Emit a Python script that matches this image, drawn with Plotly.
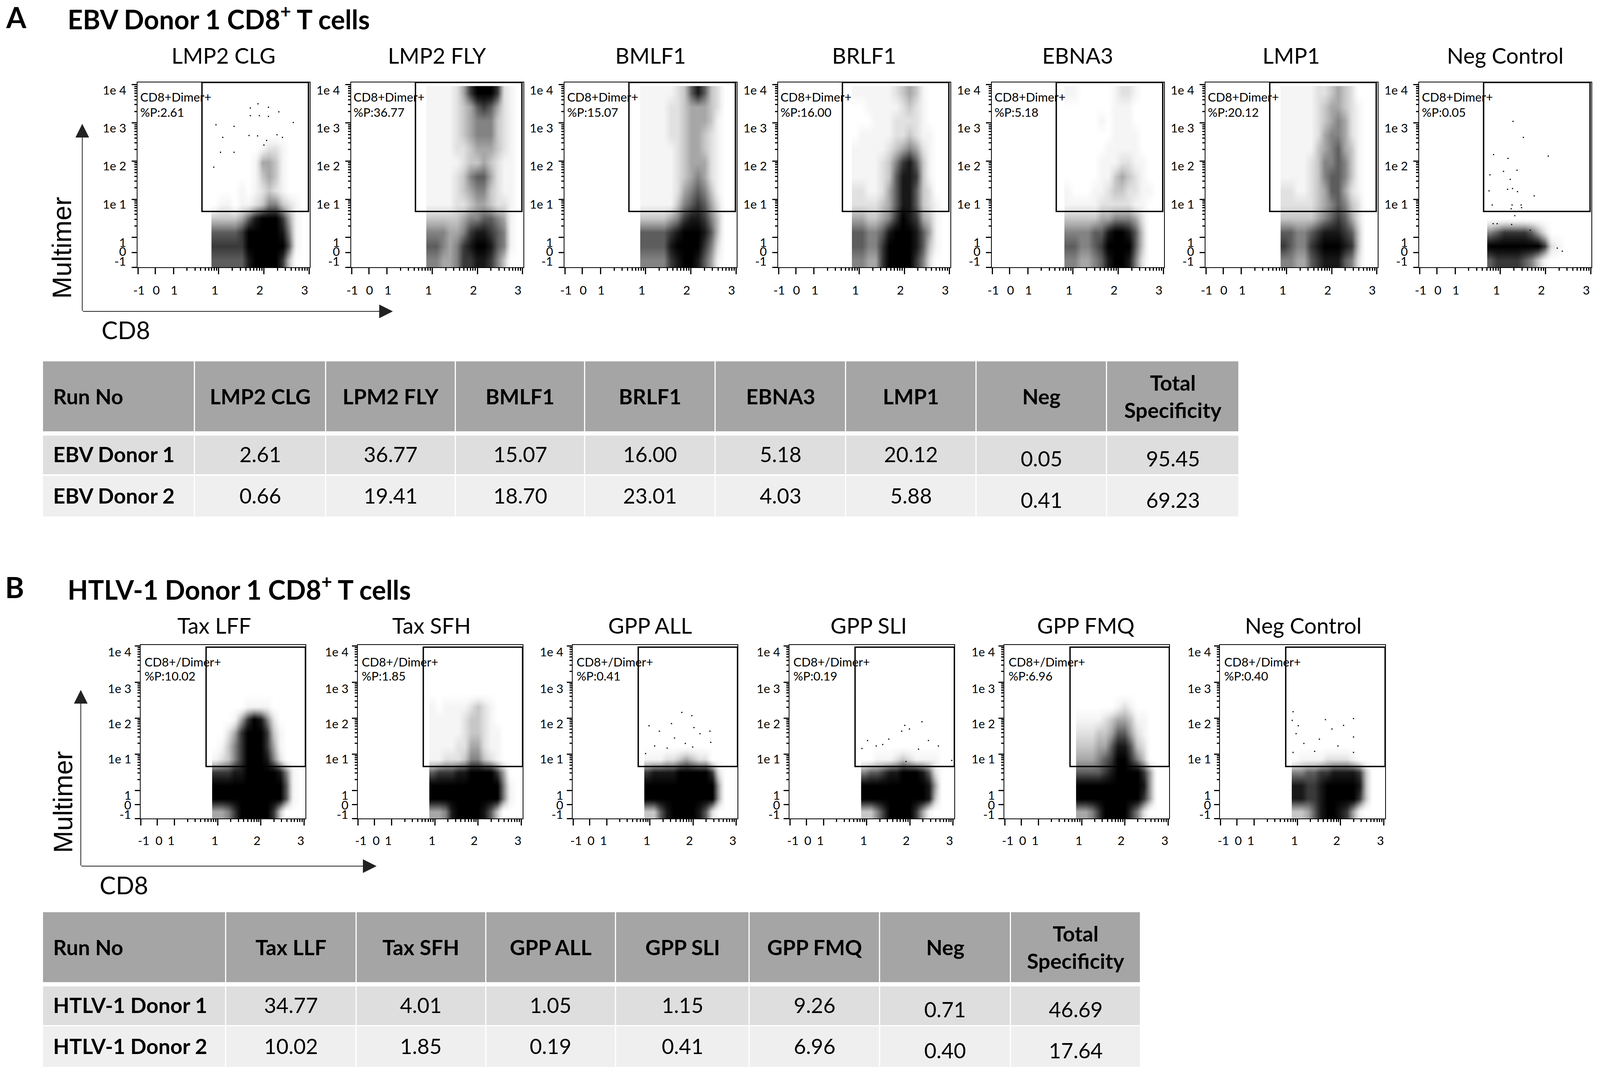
import math
import plotly.graph_objects as go

# reference coordinates are 4317 wide, the browser window only gives 4096 of that
W, H = 4317, 2744
PAGE_W = 4096
PX = PAGE_W / W
FONT = "Lato"

# %% panel names and gate percentages
names_a = ["LMP2 CLG", "LMP2 FLY", "BMLF1", "BRLF1", "EBNA3", "LMP1", "Neg Control"]
pct_a = ["2.61", "36.77", "15.07", "16.00", "5.18", "20.12", "0.05"]
names_b = ["Tax LFF", "Tax SFH", "GPP ALL", "GPP SLI", "GPP FMQ", "Neg Control"]
pct_b = ["10.02", "1.85", "0.41", "0.19", "6.96", "0.40"]

x_tick_vals = [-0.78, -0.4, 0, 1, 2, 3]
x_tick_labels = ["-1", "0", "1", "1", "2", "3"]
y_tick_vals = [-0.78, -0.4, 0, 1, 2, 3, 4]
y_tick_labels = ["-1", "0", "1", "1e 1", "1e 2", "1e 3", "1e 4"]

# gate: x0, x1, y0, y1 in axis units
gate_a = [0.63, 2.985, 0.68, 4.06]
gate_b = [0.73, 3.03, 0.66, 3.97]

# %% event density, 0 = empty .. 9 = solid black
# top row first, columns run left to right from the left edge of the cloud
density_step_x, density_step_y, density_y0 = 0.15, 0.365, -0.78

lmp2_clg = [
    "00000000000000", "00000000000000", "00000000000000", "00000000000000",
    "00000001221000", "00000014431000", "00000013431000", "00001012321000",
    "01101123553210", "33334689997410", "66667999998510", "77777999999610",
    "66666899997300",
]
lmp2_fly = [
    "11112479997210", "11112346764210", "11112345553210", "11112345553210",
    "11112234443210", "11111233432110", "11112356642110", "11112345532110",
    "11112234432210", "33333455665410", "55544578876510", "66545789986510",
    "55445778875300",
]
bmlf1 = [
    "11111236863200", "11112234443200", "11112234443100", "11112234432100",
    "11111234432100", "11111234442100", "11111234542100", "11111245653100",
    "11111356764200", "33334578875300", "66667899986300", "66668999975200",
    "55557899864100",
]
brlf1 = [
    "11111123431000", "00111112321000", "00011122221000", "01111122321100",
    "11111234542100", "11112357863100", "11112368873100", "22112468863200",
    "22223468863210", "44334579874310", "66556899986410", "66557999986310",
    "55447999975200",
]
ebna3 = [
    "11000001221000", "00000001110000", "00000101110000", "00000001111000",
    "00000011111000", "00000111221100", "00000113432100", "10001123322110",
    "11111222221100", "33333445554200", "55556689986300", "66556799996300",
    "55445689985200",
]
lmp1 = [
    "11111223432000", "11111234432100", "11111234542100", "11111245542100",
    "11111345643100", "11112355653100", "11112356653100", "22112346642100",
    "22222345653200", "33333456764200", "66556788876300", "76557899987300",
    "55446788865200",
]
neg_a = [
    "00000000000000", "00000000000000", "00000000000000", "00000000000000",
    "00000000000000", "00000000000000", "00000000000000", "00000000000000",
    "00000000000000", "00000000000000", "56777764200000", "99999999721000",
    "67777653100000",
]
tax_lff = [
    "00000000000000", "00000000000000", "00000000000000", "00000000000000",
    "00000111100000", "00014798520000", "00247999731000", "01357999741000",
    "12357999852000", "77788999998510", "99999999999610", "99999999999610",
    "44579999973000",
]
tax_sfh = [
    "00000000000000", "00000000000000", "00000000000000", "00000000000000",
    "10111123210000", "11111233210000", "11111233211000", "11112244211000",
    "11222355321000", "67778899997400", "99999999999510", "99999999999510",
    "44589999863000",
]
gpp_all = [
    "00000000000000", "00000000000000", "00000000000000", "00000000000000",
    "00000000000000", "00000000000000", "00000000000000", "00000000000000",
    "11122343220000", "78888999997200", "99999999999400", "99999999999400",
    "33689999862000",
]
gpp_sli = [
    "00000000000000", "00000000000000", "00000000000000", "00000000000000",
    "00000000000000", "00000000000000", "00000000000000", "00000000000000",
    "00111232111100", "56678899986200", "99999999998400", "99999999998300",
    "33579999741000",
]
gpp_fmq = [
    "00000000000000", "00000000000000", "00000000000000", "00000000000000",
    "00000012100000", "11112344311000", "22233466421000", "33344688632000",
    "44456799753000", "66667899997400", "99999999998400", "99999999997400",
    "44579999752000",
]
neg_b = [
    "00000000000000", "00000000000000", "00000000000000", "00000000000000",
    "00000000000000", "00000000000000", "00000000000000", "00000000000000",
    "01111222210000", "55667788887300", "88778999998300", "88778999997300",
    "33468998741000",
]

maps_a = [lmp2_clg, lmp2_fly, bmlf1, brlf1, ebna3, lmp1, neg_a]
maps_b = [tax_lff, tax_sfh, gpp_all, gpp_sli, gpp_fmq, neg_b]
cloud_left_a = [0.84, 0.87, 0.88, 0.84, 0.81, 0.87, 0.71]
cloud_left_b = [0.87, 0.87, 0.87, 0.87, 0.87, 0.87]

# single events that can be picked out one by one
clg_dots_x = [1.87, 2.1, 2.33, 1.7, 1.7, 1.9, 2.1, 0.94, 1.34, 2.65, 1.67, 1.86, 2.29, 2.41, 1.09, 2.06, 2.0, 1.04, 1.34, 0.89]
clg_dots_y = [3.5, 3.41, 3.29, 3.39, 3.19, 3.19, 3.17, 2.95, 2.91, 3.01, 2.67, 2.66, 2.69, 2.62, 2.62, 2.54, 2.42, 2.23, 2.23, 1.84]
neg_a_dots_x = [1.28, 1.51, 0.85, 1.17, 2.06, 0.77, 1.07, 1.37, 1.22, 0.75, 1.16, 1.27, 1.38, 1.75, 0.82, 1.26, 1.46, 1.24, 1.47, 1.32, 0.84, 0.93, 1.25, 1.66, 2.26, 2.37]
neg_a_dots_y = [3.04, 2.62, 2.17, 2.07, 2.13, 1.64, 1.73, 1.76, 1.52, 1.22, 1.26, 1.28, 1.2, 1.09, 0.85, 0.85, 0.85, 0.75, 0.78, 0.57, 0.36, 0.36, 0.34, 0.19, -0.28, -0.36]
all_dots_x = [1.74, 1.97, 0.98, 1.5, 2.02, 1.22, 2.39, 2.16, 1.57, 1.11, 1.82, 2.41, 1.4, 1.99, 0.9]
all_dots_y = [2.16, 2.07, 1.79, 1.85, 1.74, 1.64, 1.64, 1.57, 1.45, 1.23, 1.3, 1.33, 1.17, 1.2, 1.02]
sli_dots_x = [2.28, 1.88, 1.99, 1.81, 1.02, 1.51, 2.43, 2.66, 1.37, 1.22, 2.2, 0.89, 2.97, 1.91]
sli_dots_y = [1.9, 1.8, 1.7, 1.64, 1.38, 1.42, 1.38, 1.23, 1.27, 1.23, 1.14, 1.16, 0.83, 0.8]
neg_b_dots_x = [0.9, 0.88, 1.65, 2.3, 1.02, 2.07, 0.97, 1.51, 1.8, 2.3, 1.15, 1.94, 0.9, 1.4, 2.3]
neg_b_dots_y = [2.18, 1.94, 1.96, 1.99, 1.79, 1.8, 1.57, 1.42, 1.7, 1.48, 1.3, 1.23, 1.05, 1.08, 1.05]

# %% tables
table_a_cols = ["Run No", "LMP2 CLG", "LPM2 FLY", "BMLF1", "BRLF1", "EBNA3", "LMP1", "Neg", "Total<br>Specificity"]
table_a_rows = ["EBV Donor 1", "EBV Donor 2"]
table_a_d1 = ["2.61", "36.77", "15.07", "16.00", "5.18", "20.12", "0.05", "95.45"]
table_a_d2 = ["0.66", "19.41", "18.70", "23.01", "4.03", "5.88", "0.41", "69.23"]

table_b_cols = ["Run No", "Tax LLF", "Tax SFH", "GPP ALL", "GPP SLI", "GPP FMQ", "Neg", "Total<br>Specificity"]
table_b_rows = ["HTLV-1 Donor 1", "HTLV-1 Donor 2"]
table_b_d1 = ["34.77", "4.01", "1.05", "1.15", "9.26", "0.71", "46.69"]
table_b_d2 = ["10.02", "1.85", "0.19", "0.41", "6.96", "0.40", "17.64"]

table_a_edges = [115, 525, 879, 1229, 1578, 1930, 2282, 2634, 2986, 3343]
table_b_edges = [115, 609, 961, 1311, 1661, 2022, 2374, 2727, 3078]


def X(px):
    return px / W


def Y(py):
    return 1 - py / H


fig = go.Figure()
annots = []
shapes = []
axes = {}
density_scale = [
    [0, "#ffffff"], [0.11, "#f5f5f5"], [0.22, "#e2e2e2"], [0.33, "#c8c8c8"], [0.44, "#a8a8a8"],
    [0.56, "#828282"], [0.67, "#5c5c5c"], [0.78, "#383838"], [0.89, "#181818"], [1, "#000000"],
]
log_minor = [d + math.log10(k) for d in range(3) for k in range(2, 10)]
log_minor_y = [d + math.log10(k) for d in range(4) for k in range(2, 10)]
axis_n = 0


def text(x, y, s, size, anchor="center", **kw):
    kw.setdefault("xref", "paper")
    kw.setdefault("yref", "paper")
    annots.append(dict(x=x, y=y, text=s, showarrow=False, xanchor=anchor, yanchor="middle",
                       font=dict(family=kw.pop("family", FONT), size=size, color="black"), **kw))


def panel(name, pct, density, cloud_left, gate, left, width, top, bottom, xrange, yrange,
          title_x, title_y, gate_label, label_dx, label_y, pct_y, xlab_y, xshift, yshift, ylab_dx):
    global axis_n
    axis_n += 1
    n = "" if axis_n == 1 else str(axis_n)
    z = [[int(c) for c in row] for row in reversed(density)]
    fig.add_trace(go.Heatmap(
        z=z, x0=cloud_left + density_step_x / 2, dx=density_step_x,
        y0=density_y0 + density_step_y / 2, dy=density_step_y,
        zmin=0, zmax=9, zsmooth="best", colorscale=density_scale, showscale=False, hoverinfo="skip",
        xaxis="x" + n, yaxis="y" + n))
    axes["xaxis" + n] = dict(
        domain=[X(left), X(left + width)], range=xrange, anchor="y" + n, showgrid=False, zeroline=False,
        showline=True, linecolor="black", linewidth=2, mirror=True, ticks="outside", ticklen=16, tickwidth=3,
        tickcolor="black", tickmode="array", tickvals=x_tick_vals, showticklabels=False,
        minor=dict(tickmode="array", tickvals=log_minor, ticks="outside", ticklen=7, tickwidth=3, tickcolor="black"))
    axes["yaxis" + n] = dict(
        domain=[Y(bottom), Y(top)], range=yrange, anchor="x" + n, showgrid=False, zeroline=False,
        showline=True, linecolor="black", linewidth=2, mirror=True, ticks="outside", ticklen=13, tickwidth=3,
        tickcolor="black", tickmode="array", tickvals=y_tick_vals, showticklabels=False,
        minor=dict(tickmode="array", tickvals=log_minor_y, ticks="outside", ticklen=6, tickwidth=3, tickcolor="black"))
    shapes.append(dict(type="rect", xref="x" + n, yref="y" + n, x0=gate[0], x1=gate[1], y0=gate[2], y1=gate[3],
                       line=dict(color="black", width=3.5), layer="above"))
    text(X(title_x), Y(title_y), name, 56)
    text(X(left + label_dx), Y(label_y), gate_label, 31, anchor="left")
    text(X(left + label_dx), Y(pct_y), "%P:" + pct, 31, anchor="left")
    for v, lab, dx in zip(x_tick_vals, x_tick_labels, xshift):
        text(v, Y(xlab_y), lab, 31, xref="x" + n, xshift=dx * PX)
    for v, lab, dy in zip(y_tick_vals, y_tick_labels, yshift):
        text(X(left - ylab_dx), v, lab, 31, anchor="right", yref="y" + n, yshift=-dy)
    return n


def table(cols, rows, d1, d2, edges, heights, left_pad, yoff):
    global axis_n
    axis_n += 1
    n = str(axis_n)
    ytop = heights[0]
    fills = [[0] * (len(edges) - 1), [None] * (len(edges) - 1), [1] * (len(edges) - 1),
             [None] * (len(edges) - 1), [2] * (len(edges) - 1)]
    fig.add_trace(go.Heatmap(
        z=fills, x=edges, y=heights, zmin=0, zmax=2, showscale=False, hoverinfo="skip", xgap=3,
        colorscale=[[0, "#a5a5a5"], [0.5, "#dedede"], [1, "#efefef"]], xaxis="x" + n, yaxis="y" + n))
    axes["xaxis" + n] = dict(domain=[X(edges[0]), X(edges[-1])], range=[edges[0], edges[-1]], visible=False, anchor="y" + n)
    axes["yaxis" + n] = dict(domain=[Y(heights[-1]), Y(ytop)], range=[heights[-1], ytop], visible=False, anchor="x" + n)
    mids = [(edges[i] + edges[i + 1]) / 2 for i in range(len(edges) - 1)]
    kw = dict(xref="x" + n, yref="y" + n)
    head_y = (heights[0] + heights[1]) / 2
    r1_y = (heights[2] + heights[3]) / 2
    r2_y = (heights[4] + heights[5]) / 2
    for i, c in enumerate(cols):
        if i == 0:
            text(edges[0] + left_pad, head_y, "<b>%s</b>" % c, 54, anchor="left", **kw)
        else:
            text(mids[i], head_y, "<b>%s</b>" % c, 54, **kw)
    for y, row, vals in [(r1_y, rows[0], d1), (r2_y, rows[1], d2)]:
        text(edges[0] + left_pad, y - 2, "<b>%s</b>" % row, 54, anchor="left", **kw)
        for i, v in enumerate(vals):
            # last two columns sit a little lower in the original
            off = yoff if i >= len(vals) - 2 else 0
            text(mids[i + 1], y - 2 + off, v, 54, **kw)


# %% panels A
left_a = [371, 947, 1523, 2099, 2676, 3252, 3829]
for i in range(7):
    panel(names_a[i], pct_a[i], maps_a[i], cloud_left_a[i], gate_a, left_a[i], 465, 211, 684,
          [-0.796, 3.016], [-0.78, 4.06], left_a[i] + 232, 142, "CD8+Dimer+", 5, 248, 287, 742,
          [2, 2, 2, -10, -11, -12], [-16, -4, 12, 12, 12, 12, 13], 28)

# %% panels B
left_b = [379, 965, 1545, 2130, 2710, 3292]
title_x_b = [578, 1165, 1754, 2344, 2930, 3517]
for i in range(6):
    panel(names_b[i], pct_b[i], maps_b[i], cloud_left_b[i], gate_b, left_b[i], 445, 1651, 2095,
          [-0.79, 3.03], [-0.78, 4.03], title_x_b[i], 1600, "CD8+/Dimer+", 9, 1694, 1730, 2151,
          [8, 4, -9, -8, -10, -9], [-11, 0, 12, 11, 14, 16, 14], 23)

# %% tables
table(table_a_cols, table_a_rows, table_a_d1, table_a_d2, table_a_edges,
      [925, 1104, 1115, 1214, 1218, 1322], 26, 11)
table(table_b_cols, table_b_rows, table_b_d1, table_b_d2, table_b_edges,
      [2335, 2514, 2525, 2624, 2627, 2731], 26, 11)

# %% single events on top of the density
for ax, dx, dy in [("", clg_dots_x, clg_dots_y), ("7", neg_a_dots_x, neg_a_dots_y), ("10", all_dots_x, all_dots_y),
                   ("11", sli_dots_x, sli_dots_y), ("13", neg_b_dots_x, neg_b_dots_y)]:
    fig.add_trace(go.Scatter(x=dx, y=dy, mode="markers", xaxis="x" + ax, yaxis="y" + ax, showlegend=False,
                             marker=dict(color="black", size=3, symbol="square"), hoverinfo="skip"))

# %% titles, arrows
text(X(14), Y(44), "<b>A</b>", 74, anchor="left")
text(X(12), Y(1503), "<b>B</b>", 74, anchor="left")
text(X(180), Y(44), "<b>EBV Donor 1 CD8<sup>+</sup> T cells</b>", 68, anchor="left")
text(X(180), Y(1504), "<b>HTLV-1 Donor 1 CD8<sup>+</sup> T cells</b>", 68, anchor="left")

for ox, oy, tipx, tipy, mx, my, cx, cy in [(222, 797, 1060, 317, 167, 634, 340, 844),
                                           (218, 2217, 1016, 1766, 170, 2053, 335, 2265)]:
    annots.append(dict(x=X(tipx), y=Y(oy), xref="paper", yref="paper", ax=(ox - tipx) * PX, ay=0, axref="pixel", ayref="pixel",
                       text="", showarrow=True, arrowhead=2, arrowsize=3.5, arrowwidth=2, arrowcolor="#222222"))
    annots.append(dict(x=X(ox), y=Y(tipy), xref="paper", yref="paper", ax=0, ay=oy - tipy, axref="pixel", ayref="pixel",
                       text="", showarrow=True, arrowhead=2, arrowsize=3.5, arrowwidth=2, arrowcolor="#222222"))
    text(X(mx), Y(my), "Multimer", 68, family="Liberation Sans", textangle=-90)
    text(X(cx), Y(cy), "CD8", 62)

fig.update_layout(width=PAGE_W, height=H, margin=dict(l=0, r=0, t=0, b=0), plot_bgcolor="white", paper_bgcolor="white",
                  showlegend=False, annotations=annots, shapes=shapes, **axes)

fig.write_html("out.html", post_script="document.body.style.margin='0'", config={"displayModeBar": False})
